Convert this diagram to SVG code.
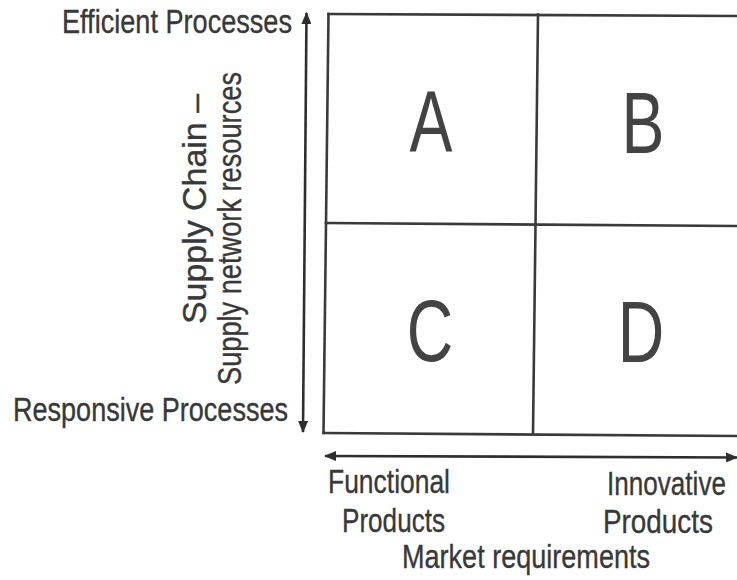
<svg xmlns="http://www.w3.org/2000/svg" width="737" height="580" viewBox="0 0 737 580">
  <style>
    .grid { stroke: #3a3a3a; stroke-width: 2.6; fill: none; stroke-linecap: square; }
    .axis { stroke: #2e2e2e; stroke-width: 2.6; fill: none; }
    .lbl { font-family: "Liberation Sans", Arial, sans-serif; font-size: 33px; fill: #383838; stroke: #383838; stroke-width: 0.35; }
    .big { font-family: "Liberation Sans", Arial, sans-serif; font-size: 87px; fill: #434343; text-anchor: middle; }
  </style>
  <defs>
    <marker id="head" viewBox="0 0 12 10" refX="11" refY="5" markerUnits="userSpaceOnUse" markerWidth="12" markerHeight="10" orient="auto-start-reverse">
      <path d="M0,0 L12,5 L0,10 Z" fill="#2e2e2e"/>
    </marker>
  </defs>
  <rect width="737" height="580" fill="#ffffff"/>

  <!-- connectors: the two axis arrows -->
  <g id="connectors">
    <line class="axis" x1="306.5" y1="13" x2="303" y2="432" marker-start="url(#head)" marker-end="url(#head)"/>
    <line class="axis" x1="325" y1="456" x2="737" y2="457.5" marker-start="url(#head)" marker-end="url(#head)"/>
  </g>

  <!-- matrix frame and dividers -->
  <g id="matrix">
    <line class="grid" x1="328.5" y1="14" x2="737" y2="16"/>
    <line class="grid" x1="328.5" y1="14" x2="323.5" y2="433"/>
    <line class="grid" x1="323.5" y1="433" x2="737" y2="436"/>
    <line class="grid" x1="538" y1="14.5" x2="533" y2="434.5"/>
    <line class="grid" x1="326" y1="223" x2="737" y2="226"/>
  </g>

  <g id="quadrant-a"><text class="big" transform="translate(431,152) scale(0.74,1)">A</text></g>
  <g id="quadrant-b"><text class="big" transform="translate(643,153) scale(0.74,1)">B</text></g>
  <g id="quadrant-c"><text class="big" transform="translate(430,361) scale(0.74,1)">C</text></g>
  <g id="quadrant-d"><text class="big" transform="translate(641,362) scale(0.74,1)">D</text></g>

  <!-- vertical axis labels -->
  <g id="label-efficient"><text class="lbl" x="62" y="33" textLength="230" lengthAdjust="spacingAndGlyphs">Efficient Processes</text></g>
  <g id="label-responsive"><text class="lbl" x="13" y="421" textLength="275" lengthAdjust="spacingAndGlyphs">Responsive Processes</text></g>
  <g id="label-supply">
    <text class="lbl" transform="translate(206,324) rotate(-90)" textLength="230" lengthAdjust="spacingAndGlyphs">Supply Chain –</text>
    <text class="lbl" transform="translate(241,385) rotate(-90)" textLength="313" lengthAdjust="spacingAndGlyphs">Supply network resources</text>
  </g>

  <!-- horizontal axis labels -->
  <g id="label-functional">
    <text class="lbl" x="328" y="493" textLength="122" lengthAdjust="spacingAndGlyphs">Functional</text>
    <text class="lbl" x="342" y="532" textLength="103" lengthAdjust="spacingAndGlyphs">Products</text>
  </g>
  <g id="label-innovative">
    <text class="lbl" transform="translate(607,495) scale(0.8,1)" textLength="148.75" lengthAdjust="spacingAndGlyphs">Innovative</text>
    <text class="lbl" transform="translate(603,533) scale(0.8,1)" textLength="137.5" lengthAdjust="spacingAndGlyphs">Products</text>
  </g>
  <g id="label-market"><text class="lbl" x="402" y="568" textLength="248" lengthAdjust="spacingAndGlyphs">Market requirements</text></g>
</svg>
